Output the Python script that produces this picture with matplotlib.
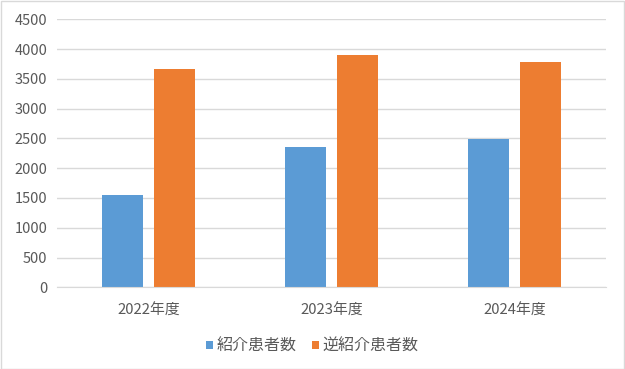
import numpy as np
import matplotlib.pyplot as plt
from matplotlib.patches import Rectangle

plt.rcParams['font.family'] = ['Noto Sans CJK JP', 'DejaVu Sans']

# データ
years = ['2022年度', '2023年度', '2024年度']
shoukai = [1550, 2360, 2495]
gyaku_shoukai = [3665, 3900, 3780]
series_names = ['紹介患者数', '逆紹介患者数']

text_color = '#595959'
grid_color = '#D9D9D9'

fig = plt.figure(figsize=(6.25, 3.69), dpi=100)
ax = fig.add_axes([0.0912, 0.2214, 0.8784, 0.7263])

x = np.arange(len(years))
w = 0.224
ax.bar(x - 0.142, shoukai, w, color='#5B9BD5', label=series_names[0], zorder=3)
ax.bar(x + 0.142, gyaku_shoukai, w, color='#ED7D31', label=series_names[1], zorder=3)

ax.set_xlim(-0.5, 2.5)
ax.set_ylim(0, 4500)
ax.set_yticks(np.arange(0, 4501, 500))
ax.set_xticks(x)
ax.set_xticklabels(years)
ax.tick_params(axis='both', length=0, colors=text_color)
ax.tick_params(axis='x', pad=11.5, labelsize=10.7)
ax.tick_params(axis='y', pad=7, labelsize=10.5)
ax.grid(axis='y', color=grid_color, linewidth=1, zorder=0)
for s in ['top', 'right', 'left']:
    ax.spines[s].set_visible(False)
ax.spines['bottom'].set_color(grid_color)
ax.spines['bottom'].set_zorder(4)

ax.legend(loc='center', bbox_to_anchor=(0.5, 23 / 369), bbox_transform=fig.transFigure,
          ncol=2, frameon=False, fontsize=11.5, handlelength=0.4, handleheight=0.4,
          handletextpad=0.25, columnspacing=1.0, labelcolor=text_color)

fig.patches.append(Rectangle((0.001, 0.001), 0.997, 0.996, transform=fig.transFigure,
                             fill=False, edgecolor='#D9D9D9', linewidth=1))

fig.savefig('out.png', dpi=100)
